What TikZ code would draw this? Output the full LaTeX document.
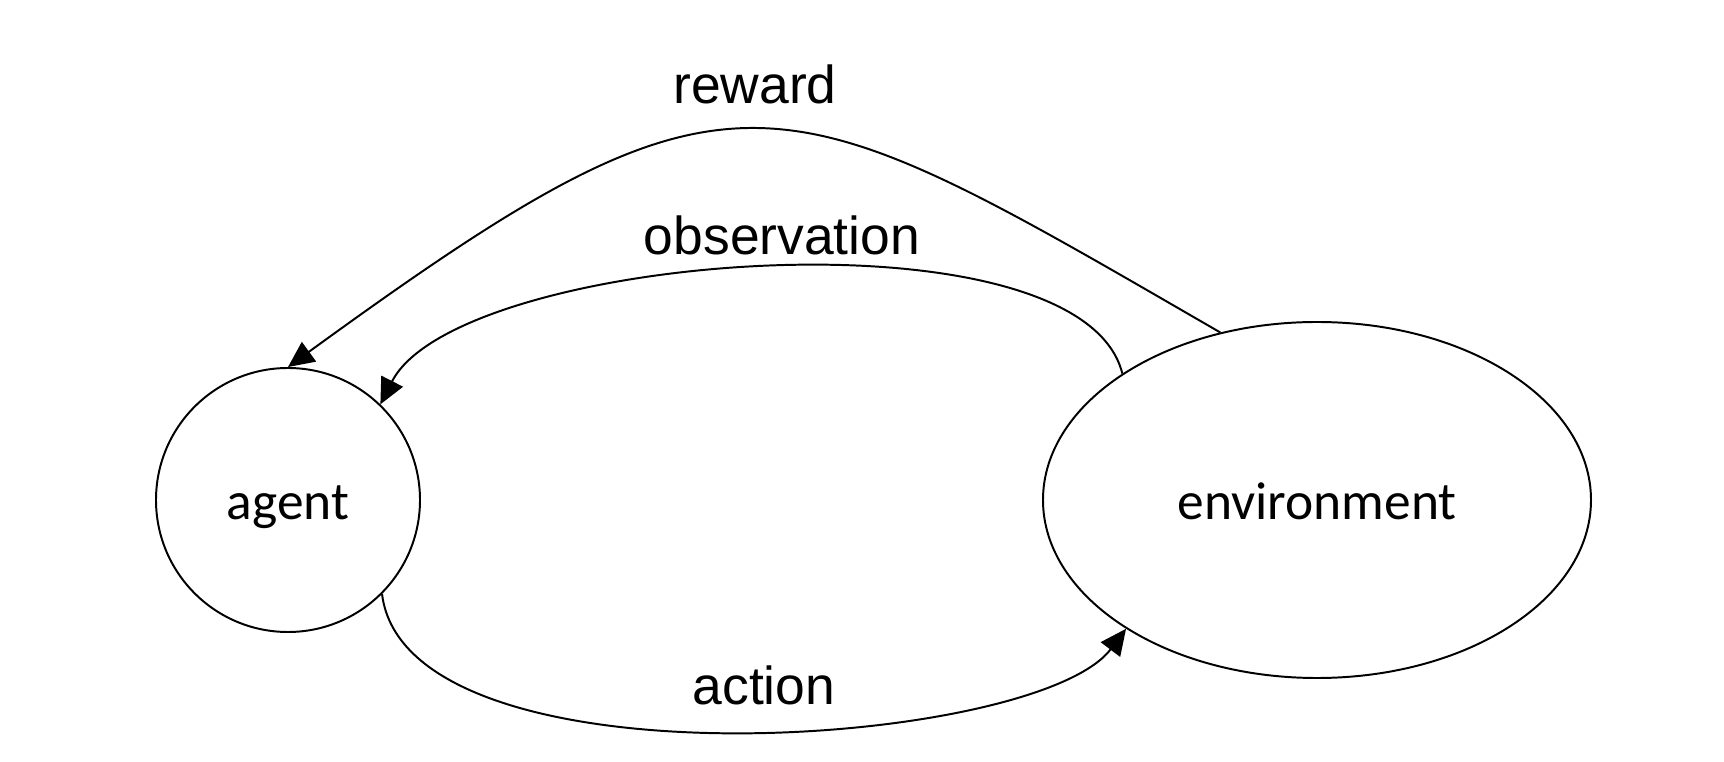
\documentclass[tikz,border=0pt]{standalone}
\usepackage{fontspec}
\setmainfont{Liberation Sans}
\newfontfamily\calibri{Carlito}
\usetikzlibrary{arrows.meta,shapes.geometric}

\begin{document}
\begin{tikzpicture}[x=0.25mm, y=0.25mm]

    \tikzstyle{state} = [draw, line width=1.4pt, inner sep=0pt,
        font=\calibri\fontsize{38}{46}\selectfont, text height=36pt, text depth=8pt]
    \tikzstyle{ann} = [font=\fontsize{38}{46}\selectfont, anchor=base, inner sep=0pt]
    \tikzstyle{flow} = [arrows=-{Triangle[length=6.5mm,width=6mm]}, line width=1.4pt]

    \useasboundingbox (0,0) rectangle (1724,762);

    % Agent and environment
    \node[state, circle, minimum size=66mm] (agent) at (288,262) {agent};
    \node[state, ellipse, minimum width=137mm, minimum height=89mm] (env) at (1317,262) {environment};

    % Reward
    \draw[flow] (env.120) .. controls +(150:519) and +(36:556) .. (agent.90);
    \node[ann] (reward) at (755,658) {reward};

    % Observation
    \draw[flow] (env.147) .. controls +(104:175) and +(63:170) .. (agent.46);
    \node[ann] (obs) at (782,507) {observation};

    % Action
    \draw[flow] (agent.-45) .. controls +(-83:200) and +(-127:150) .. (env.214);
    \node[ann] (action) at (764,57) {action};

\end{tikzpicture}
\end{document}
